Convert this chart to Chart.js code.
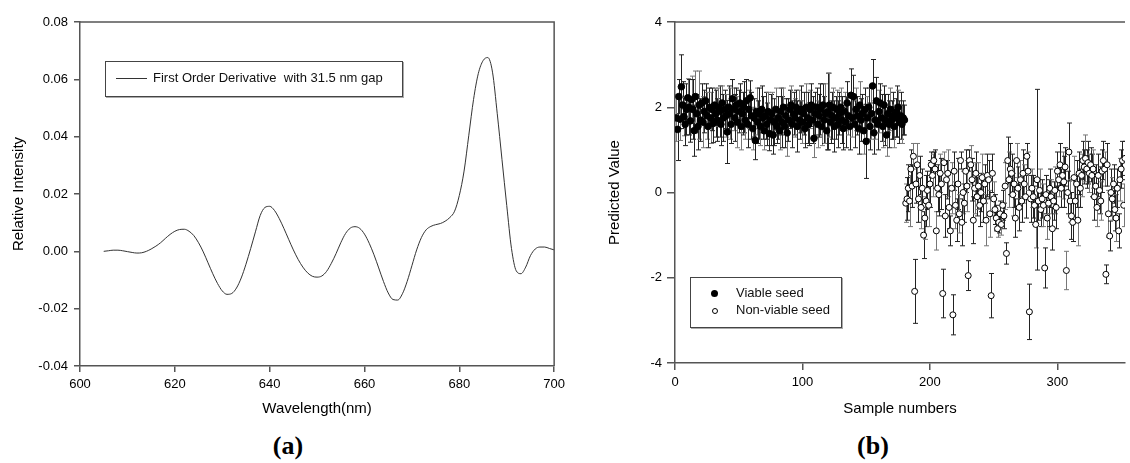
<!DOCTYPE html>
<html lang="en">
<head>
  <meta charset="UTF-8" />
  <title>First derivative spectrum and seed viability prediction</title>
  <script src="https://cdn.jsdelivr.net/npm/chart.js"></script>
  <style>
    html, body {
      margin: 0;
      padding: 0;
      background: #fff;
      font-family: "Liberation Sans", Arial, sans-serif;
    }

    #page {
      position: relative;
      width: 1130px;
      height: 463px;
      overflow: hidden;
    }

    .panel {
      position: absolute;
      top: 0;
    }

    canvas { display: block; }

    .legend {
      position: absolute;
      border: 1px solid #444;
      background: #fff;
      box-shadow: 1px 1px 0 #aaa;
      font-size: 13px;
      color: #111;
      box-sizing: border-box;
    }

    .legend .row {
      position: absolute;
      white-space: nowrap;
      line-height: 16px;
    }

    .tag {
      position: absolute;
      top: 431px;
      line-height: 30px;
      transform: translateX(-50%);
      font: bold 26px "Liberation Serif", "Times New Roman", serif;
      color: #000;
    }
  </style>
</head>
<body>
  <div id="page">
    <div class="panel" style="left:0">
      <canvas id="spectrum" width="570" height="430"></canvas>
    </div>
    <div class="panel" style="left:590px">
      <canvas id="samples" width="540" height="430"></canvas>
    </div>

    <div class="legend" style="left:105px; top:61px; width:298px; height:36px;">
      <div style="position:absolute; left:10px; top:16px; width:31px; border-top:1px solid #333;"></div>
      <div class="row" style="left:47px; top:8px;">First Order Derivative&nbsp; with 31.5 nm gap</div>
    </div>

    <div class="legend" style="left:690px; top:277px; width:152px; height:51px;">
      <div style="position:absolute; left:20px; top:12px; width:7px; height:7px; border-radius:50%; background:#000;"></div>
      <div class="row" style="left:45px; top:7px;">Viable seed</div>
      <div style="position:absolute; left:21px; top:30px; width:4px; height:4px; border-radius:50%; border:1px solid #000;"></div>
      <div class="row" style="left:45px; top:24px;">Non-viable seed</div>
    </div>

    <div class="tag" style="left:288px">(a)</div>
    <div class="tag" style="left:873px">(b)</div>
  </div>

  <script>
    // (a) first order derivative, wavelength in nm
    const wavelength = [
      605, 606, 607, 608, 609, 610, 611, 612, 613, 614,
      615, 616, 617, 618, 619, 620, 621, 622, 623, 624,
      625, 626, 627, 628, 629, 630, 631, 632, 633, 634,
      635, 636, 637, 638, 639, 640, 641, 642, 643, 644,
      645, 646, 647, 648, 649, 650, 651, 652, 653, 654,
      655, 656, 657, 658, 659, 660, 661, 662, 663, 664,
      665, 666, 667, 668, 669, 670, 671, 672, 673, 674,
      675, 676, 677, 678, 679, 680, 681, 682, 683, 684,
      685, 686, 687, 688, 689, 690, 691, 692, 693, 694,
      695, 696, 697, 698, 699, 700
    ];
    const intensity = [
      0.0000, 0.0002, 0.0004, 0.0004, 0.0002, -0.0001, -0.0004, -0.0006, -0.0005, 0.0000,
      0.0008, 0.0018, 0.0030, 0.0045, 0.0059, 0.0070, 0.0076, 0.0077, 0.0070, 0.0055,
      0.0030, -0.0002, -0.0040, -0.0078, -0.0112, -0.0138, -0.0150, -0.0147, -0.0128, -0.0093,
      -0.0045, 0.0010, 0.0068, 0.0125, 0.0153, 0.0157, 0.0143, 0.0115, 0.0080, 0.0042,
      0.0005, -0.0028, -0.0055, -0.0075, -0.0087, -0.0090, -0.0086, -0.0070, -0.0042, -0.0008,
      0.0030, 0.0062, 0.0081, 0.0086, 0.0080, 0.0060, 0.0028, -0.0012, -0.0058, -0.0105,
      -0.0145, -0.0168, -0.0170, -0.0148, -0.0105, -0.0050, 0.0005, 0.0048, 0.0075, 0.0087,
      0.0093, 0.0097, 0.0105, 0.0118, 0.0140, 0.0195, 0.0280, 0.0405, 0.0530, 0.0620,
      0.0665, 0.0676, 0.0625, 0.0480, 0.0320, 0.0160, 0.0010, -0.0068, -0.0078, -0.0055,
      -0.0015, 0.0008, 0.0015, 0.0015, 0.0010, 0.0005
    ];
    const wavelengthTicks = [600, 620, 640, 660, 680, 700];
    const intensityTicks = [-0.04, -0.02, 0.00, 0.02, 0.04, 0.06, 0.08];

    // (b) predicted values, samples 1..180 viable, 181.. non-viable
    const viableStart = 1;
    const viable = [
      1.75, 1.48, 2.25, 1.72, 2.48, 2.05, 1.78, 1.60, 1.95, 2.22,
      2.00, 1.68, 2.18, 1.95, 1.45, 2.25, 1.85, 1.55, 2.05, 1.70,
      2.10, 1.65, 1.90, 2.15, 1.80, 1.55, 2.00, 1.75, 1.95, 1.62,
      2.05, 1.85, 1.70, 2.00, 1.90, 1.60, 2.10, 1.75, 1.95, 1.80,
      1.42, 2.00, 1.85, 1.60, 2.20, 1.95, 1.75, 2.05, 1.65, 1.90,
      2.10, 1.55, 1.85, 2.00, 1.70, 2.15, 1.60, 1.95, 2.22, 1.80,
      1.50, 1.75, 1.22, 1.90, 1.65, 1.85, 1.55, 1.95, 1.75, 1.45,
      1.80, 1.60, 1.90, 1.38, 1.70, 1.85, 1.35, 1.65, 1.95, 1.55,
      1.75, 1.45, 1.90, 1.65, 2.00, 1.55, 1.80, 1.40, 1.70, 1.95,
      2.05, 1.60, 1.85, 1.75, 2.00, 1.55, 1.90, 1.70, 1.95, 1.65,
      1.85, 1.50, 2.00, 1.75, 1.60, 1.95, 2.05, 1.70, 1.27, 1.85,
      2.00, 1.60, 1.80, 1.95, 1.55, 2.05, 1.70, 1.85, 1.45, 1.90,
      2.05, 1.65, 1.80, 2.00, 1.55, 1.75, 1.95, 1.60, 1.85, 2.00,
      1.70, 1.50, 1.90, 1.65, 2.10, 1.80, 1.55, 2.28, 1.75, 2.25,
      1.60, 1.95, 1.80, 1.50, 2.05, 1.70, 1.85, 1.45, 1.95, 1.20,
      1.75, 2.00, 1.55, 1.85, 2.50, 1.40, 1.70, 2.15, 1.60, 1.90,
      2.10, 1.75, 1.55, 2.05, 1.70, 1.35, 1.85, 1.60, 1.95, 1.70,
      1.80, 1.55, 1.75, 1.90, 2.00, 1.65, 1.80, 1.60, 1.75, 1.70
    ];
    const viableErr = [
      0.55, 0.73, 0.40, 0.50, 0.75, 0.55, 0.45, 0.50, 0.60, 0.45,
      0.65, 0.50, 0.55, 0.70, 0.60, 0.60, 0.45, 0.55, 0.80, 0.50,
      0.45, 0.60, 0.50, 0.40, 0.55, 0.50, 0.45, 0.60, 0.50, 0.45,
      0.40, 0.55, 0.50, 0.45, 0.60, 0.50, 0.40, 0.55, 0.45, 0.50,
      0.74, 0.50, 0.60, 0.45, 0.45, 0.50, 0.55, 0.40, 0.60, 0.50,
      0.45, 0.55, 0.50, 0.60, 0.45, 0.50, 0.55, 0.45, 0.40, 0.55,
      0.50, 0.45, 0.45, 0.55, 0.50, 0.60, 0.45, 0.55, 0.50, 0.45,
      0.55, 0.50, 0.45, 0.40, 0.60, 0.50, 0.45, 0.55, 0.50, 0.40,
      0.50, 0.45, 0.55, 0.60, 0.45, 0.50, 0.40, 0.55, 0.50, 0.45,
      0.45, 0.55, 0.50, 0.45, 0.40, 0.60, 0.50, 0.45, 0.55, 0.50,
      0.50, 0.45, 0.55, 0.60, 0.50, 0.45, 0.50, 0.55, 0.45, 0.50,
      0.45, 0.55, 0.50, 0.60, 0.45, 0.50, 0.55, 0.70, 0.45, 0.90,
      0.75, 0.50, 0.55, 0.45, 0.60, 0.50, 0.45, 0.55, 0.50, 0.45,
      0.55, 0.50, 0.45, 0.60, 0.50, 0.45, 0.55, 0.62, 0.45, 0.50,
      0.55, 0.50, 0.45, 0.60, 0.55, 0.50, 0.45, 0.55, 0.50, 0.87,
      0.50, 0.45, 0.55, 0.60, 0.62, 0.50, 0.45, 0.55, 0.60, 0.50,
      0.45, 0.55, 0.50, 0.45, 0.60, 0.50, 0.45, 0.55, 0.50, 0.45,
      0.55, 0.50, 0.45, 0.60, 0.40, 0.50, 0.55, 0.45, 0.40, 0.35
    ];

    const nonViableStart = 181;
    const nonViable = [
      -0.25, -0.15, 0.10, -0.20, 0.55, 0.15, 0.85, -2.32, 0.20, 0.65,
      -0.15, 0.40, -0.35, 0.10, -1.00, -0.60, -0.20, 0.05, -0.30, 0.20,
      0.65, 0.40, 0.75, 0.55, -0.90, 0.10, -0.05, 0.45, 0.20, -2.37,
      0.70, -0.55, 0.30, 0.45, -0.35, -0.90, 0.10, -2.87, 0.50, -0.30,
      -0.65, 0.20, -0.50, 0.75, -0.70, 0.00, -0.25, 0.50, 0.15, -1.95,
      0.75, 0.65, 0.30, -0.65, 0.10, 0.45, -0.10, 0.15, -0.30, 0.00,
      0.35, -0.20, 0.20, -0.65, 0.40, 0.30, -0.50, -2.42, 0.45, -0.15,
      -0.40, -0.60, -0.85, -0.70, -0.50, -0.75, -0.30, -0.55, 0.15, -1.43,
      0.75, 0.30, 0.55, 0.45, -0.05, 0.20, -0.60, 0.75, 0.10, -0.35,
      0.30, -0.20, 0.45, 0.20, -0.10, 0.85, 0.50, -2.80, -0.15, 0.10,
      -0.10, -0.30, -0.75, 0.30, -0.20, 0.05, -0.40, -0.15, -0.30, -1.77,
      -0.05, -0.60, -0.25, 0.10, -0.10, -0.85, -0.20, 0.05, -0.35, 0.50,
      0.30, 0.65, 0.10, 0.40, 0.25, 0.60, -1.83, 0.00, 0.95, -0.20,
      -0.55, -0.70, 0.35, -0.20, 0.20, -0.65, 0.45, 0.10, 0.40, 0.75,
      0.60, 0.80, 0.55, 0.70, 0.45, 0.65, 0.40, 0.55, -0.10, 0.15,
      -0.35, 0.40, 0.05, -0.20, 0.50, 0.75, 0.55, -1.92, 0.65, -0.50,
      -1.02, 0.00, -0.15, 0.20, -0.40, -0.60, 0.10, -0.90, 0.30, 0.55,
      0.75, -0.30, 0.80
    ];
    const nonViableErr = [
      0.45, 0.50, 0.55, 0.60, 0.45, 0.50, 0.30, 0.75, 0.45, 0.50,
      0.55, 0.45, 0.50, 0.45, 0.55, 0.50, 0.60, 0.45, 0.50, 0.55,
      0.30, 0.50, 0.20, 0.45, 0.45, 0.55, 0.50, 0.45, 0.60, 0.57,
      0.25, 0.50, 0.45, 0.55, 0.50, 0.35, 0.60, 0.47, 0.45, 0.55,
      0.50, 0.60, 0.45, 0.20, 0.55, 0.50, 0.45, 0.50, 0.60, 0.35,
      0.25, 0.45, 0.50, 0.55, 0.60, 0.50, 0.45, 0.55, 0.50, 0.45,
      0.55, 0.50, 0.45, 0.60, 0.50, 0.45, 0.55, 0.52, 0.45, 0.40,
      0.35, 0.30, 0.20, 0.25, 0.30, 0.25, 0.35, 0.30, 0.55, 0.25,
      0.55, 0.65, 0.60, 0.45, 0.50, 0.55, 0.45, 0.40, 0.50, 0.55,
      0.45, 0.50, 0.55, 0.45, 0.50, 0.30, 0.45, 0.65, 0.55, 0.45,
      0.50, 0.45, 0.55, 2.12, 0.45, 0.50, 0.40, 0.45, 0.50, 0.47,
      0.45, 0.50, 0.55, 0.45, 0.40, 0.50, 0.45, 0.55, 0.50, 0.45,
      0.40, 0.50, 0.45, 0.55, 0.60, 0.45, 0.45, 0.50, 0.68, 0.50,
      0.55, 0.45, 0.50, 0.45, 0.55, 0.60, 0.50, 0.45, 0.50, 0.45,
      0.40, 0.55, 0.45, 0.50, 0.45, 0.40, 0.50, 0.45, 0.55, 0.50,
      0.45, 0.50, 0.55, 0.45, 0.50, 0.45, 0.40, 0.22, 0.50, 0.55,
      0.35, 0.55, 0.50, 0.45, 0.50, 0.55, 0.45, 0.40, 0.50, 0.45,
      0.45, 0.50, 0.40
    ];
    const sampleTicks = [0, 100, 200, 300];
    const predictedTicks = [-4, -2, 0, 2, 4];

    const axisColor = '#555';
    const tickFont = { family: '"Liberation Sans", Arial, sans-serif', size: 13 };
    const titleFont = { family: '"Liberation Sans", Arial, sans-serif', size: 15 };

    // closes the plot box: top line always, right line if asked
    const framePlugin = {
      id: 'frame',
      afterDraw(chart, args, opts) {
        const { ctx, chartArea: a } = chart;
        ctx.save();
        ctx.strokeStyle = axisColor;
        ctx.lineWidth = 1.5;
        ctx.beginPath();
        ctx.moveTo(a.left, a.top);
        ctx.lineTo(a.right, a.top);
        if (opts.right) ctx.lineTo(a.right, a.bottom);
        ctx.stroke();
        ctx.restore();
      }
    };

    // vertical error bars with caps, drawn under the markers
    const errorBarPlugin = {
      id: 'errorBars',
      beforeDatasetsDraw(chart) {
        const { ctx, chartArea: a, scales: { x, y } } = chart;
        ctx.save();
        ctx.beginPath();
        ctx.rect(a.left, a.top, a.right - a.left, a.bottom - a.top);
        ctx.clip();
        ctx.lineWidth = 1;
        chart.data.datasets.forEach(ds => {
          ds.data.forEach((p, i) => {
            const e = ds.errors[i];
            const px = Math.round(x.getPixelForValue(p.x)) + 0.5;
            const top = y.getPixelForValue(p.y + e);
            const bot = y.getPixelForValue(p.y - e);
            ctx.strokeStyle = i % 3 === 0 ? '#777' : '#222';
            ctx.beginPath();
            ctx.moveTo(px, top);
            ctx.lineTo(px, bot);
            ctx.moveTo(px - 2.5, top);
            ctx.lineTo(px + 2.5, top);
            ctx.moveTo(px - 2.5, bot);
            ctx.lineTo(px + 2.5, bot);
            ctx.stroke();
          });
        });
        ctx.restore();
      }
    };

    function axis(opts) {
      return {
        type: 'linear',
        min: opts.min,
        max: opts.max,
        border: { color: axisColor, width: 1.5 },
        grid: { drawOnChartArea: false, drawTicks: true, tickLength: opts.tickLength, color: axisColor, lineWidth: 1.5 },
        afterBuildTicks: s => { s.ticks = opts.ticks.map(v => ({ value: v })); },
        afterFit: opts.afterFit,
        ticks: {
          color: '#000',
          font: tickFont,
          padding: opts.padding,
          maxRotation: 0,
          callback: opts.format
        },
        title: { display: true, text: opts.title, color: '#000', font: titleFont, padding: opts.titlePadding }
      };
    }

    new Chart(document.getElementById('spectrum'), {
      type: 'line',
      data: {
        datasets: [{
          label: 'First Order Derivative  with 31.5 nm gap',
          data: wavelength.map((w, i) => ({ x: w, y: intensity[i] })),
          borderColor: '#333',
          borderWidth: 1,
          pointRadius: 0,
          cubicInterpolationMode: 'monotone',
          fill: false
        }]
      },
      options: {
        responsive: false,
        animation: false,
        layout: { padding: { top: 22, right: 12, left: 0, bottom: 0 } },
        plugins: { legend: { display: false }, tooltip: { enabled: false }, frame: { right: true } },
        scales: {
          x: axis({
            min: 600, max: 700, ticks: wavelengthTicks, tickLength: 6, padding: 5,
            title: 'Wavelength(nm)', titlePadding: { top: 0, bottom: 12 },
            afterFit: s => { s.height = 64; },
            format: v => String(v)
          }),
          y: axis({
            min: -0.04, max: 0.08, ticks: intensityTicks, tickLength: 6, padding: 6,
            title: 'Relative Intensity', titlePadding: { top: 10, bottom: 0 },
            afterFit: s => { s.width = 80; },
            format: v => v.toFixed(2)
          })
        }
      },
      plugins: [framePlugin]
    });

    new Chart(document.getElementById('samples'), {
      type: 'scatter',
      data: {
        datasets: [{
          label: 'Viable seed',
          data: viable.map((v, i) => ({ x: viableStart + i, y: v })),
          errors: viableErr,
          backgroundColor: '#000',
          borderColor: '#000',
          borderWidth: 1,
          pointRadius: 3.3
        }, {
          label: 'Non-viable seed',
          data: nonViable.map((v, i) => ({ x: nonViableStart + i, y: v })),
          errors: nonViableErr,
          backgroundColor: '#fff',
          borderColor: '#000',
          borderWidth: 1,
          pointRadius: 3
        }]
      },
      options: {
        responsive: false,
        animation: false,
        layout: { padding: { top: 22, right: 0, left: 0, bottom: 0 } },
        plugins: { legend: { display: false }, tooltip: { enabled: false }, frame: { right: false } },
        scales: {
          x: axis({
            min: 0, max: 353, ticks: sampleTicks, tickLength: 7, padding: 5,
            title: 'Sample numbers', titlePadding: { top: 0, bottom: 12 },
            afterFit: s => { s.height = 67; },
            format: v => String(v)
          }),
          y: axis({
            min: -4, max: 4, ticks: predictedTicks, tickLength: 8, padding: 5,
            title: 'Predicted Value', titlePadding: { top: 16, bottom: 0 },
            afterFit: s => { s.width = 85; },
            format: v => String(v)
          })
        }
      },
      plugins: [errorBarPlugin, framePlugin]
    });
  </script>
</body>
</html>
